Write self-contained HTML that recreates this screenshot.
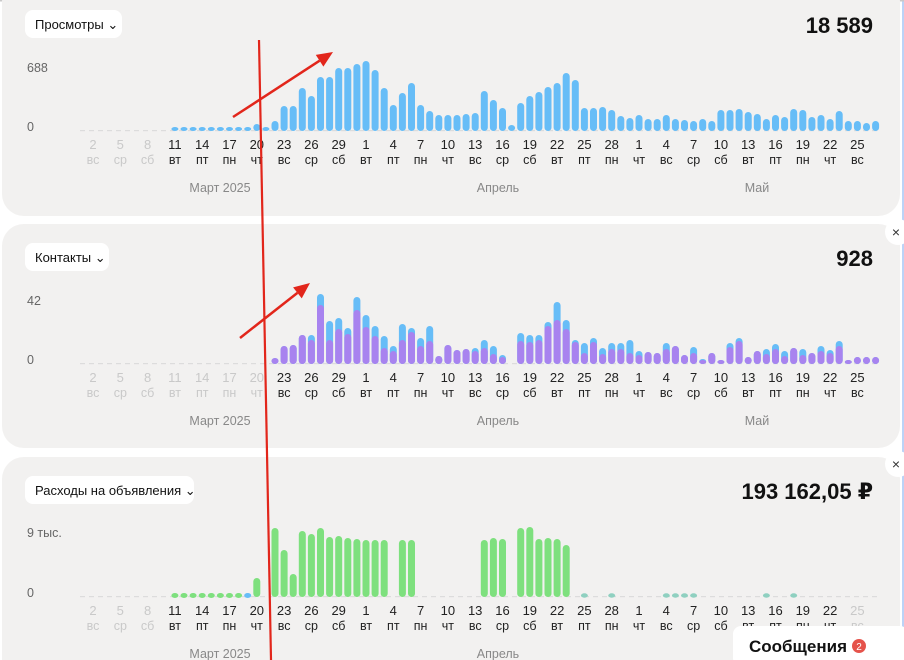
<!DOCTYPE html>
<html><head><meta charset="utf-8">
<style>
html,body{margin:0;padding:0;background:#fff;width:904px;height:660px;overflow:hidden;font-family:"Liberation Sans","DejaVu Sans",sans-serif;}
svg{position:absolute;left:0;top:0;}
</style></head><body>
<svg id="s" width="904" height="660" viewBox="0 0 904 660" xmlns="http://www.w3.org/2000/svg" font-family="Liberation Sans, DejaVu Sans, sans-serif">
<rect x="0" y="0" width="904" height="660" fill="#fff"/>
<rect x="902" y="0" width="2" height="660" fill="#bcd3f7"/>
<rect x="0" y="0" width="904" height="1.5" fill="#c9c9c9"/>
<rect x="2" y="-20" width="898" height="236" rx="22" fill="#f2f1f0"/>
<rect x="2" y="224" width="898" height="224" rx="22" fill="#f2f1f0"/>
<rect x="2" y="457" width="898" height="230" rx="22" fill="#f2f1f0"/>
<g id="g"></g>
</svg>
<script>
var NS="http://www.w3.org/2000/svg",g=document.getElementById('g');
function el(t,a,txt){var e=document.createElementNS(NS,t);for(var k in a)e.setAttribute(k,a[k]);if(txt!=null)e.textContent=txt;g.appendChild(e);return e;}
function X(i){return 93+i*9.1;}
var wd=['вс','пн','вт','ср','чт','пт','сб'];
function dayLabel(i){var d=new Date(2025,2,2+i);return [d.getDate(),wd[d.getDay()]];}
function axis(off,greyFn,month){
  var b=131+off;
  for(var x=80;x<880;x+=9)el('rect',{x:x,y:b-1,width:5,height:1.2,fill:'#dcdcdc'});
  for(var i=0;i<=84;i+=3){var l=dayLabel(i),c=greyFn(i)?'#c9c9c9':'#222';
    el('text',{x:X(i),y:b+18,'font-size':13,'text-anchor':'middle',fill:c},l[0]);
    el('text',{x:X(i),y:b+33,'font-size':12.5,'text-anchor':'middle',fill:c},l[1]);}
  el('text',{x:220,y:b+61,'font-size':12.5,'text-anchor':'middle',fill:'#888'},'Март 2025');
  el('text',{x:498,y:b+61,'font-size':12.5,'text-anchor':'middle',fill:'#888'},'Апрель');
  el('text',{x:757,y:b+61,'font-size':12.5,'text-anchor':'middle',fill:'#888'},'Май');
}
function bar(i,b,h,col){if(h<=0)return;var w=7,hh=Math.max(h,4);el('rect',{x:X(i)-w/2,y:b-hh,width:w,height:hh,rx:3.5,fill:col});}
function header(off,label,bw,total){
  el('rect',{x:25,y:10+off,width:bw,height:28,rx:8,fill:'#fff'});
  el('text',{x:35,y:29+off,'font-size':13,fill:'#111'},label+' \u2304');
  el('text',{x:873,y:33+off,'font-size':22,'font-weight':'bold','text-anchor':'end',fill:'#111'},total);
}
var p1=[3,2,3,1,2,1,1,1,4,7,1,10,25,25,43,35,54,54,63,63,67,70,61,43,26,38,48,26,20,16,16,16,17,18,40,31,23,6,28,35,39,44,48,58,51,23,23,24,21,15,13,16,12,12,16,12,11,10,12,10,21,21,22,19,17,12,16,14,22,21,14,16,12,20,10,10,8,10];
axis(0,function(i){return i<9;});
header(0,'Просмотры',97,'18 589');
el('text',{x:27,y:72,'font-size':12.5,fill:'#666'},'688');
el('text',{x:27,y:131,'font-size':12.5,fill:'#666'},'0');
for(var k=0;k<p1.length;k++)bar(9+k,131,p1[k],'#67bdf7');
var p2=[[6,6],[18,18],[19,19],[29,29],[29,24],[70,59],[43,24],[46,35],[36,30],[67,54],[49,37],[38,28],[28,16],[18,13],[40,24],[36,32],[26,18],[38,23],[8,8],[19,19],[14,14],[15,15],[16,13],[24,16],[18,10],[9,7],[0,0],[31,23],[29,22],[29,24],[42,38],[62,44],[44,35],[24,22],[21,11],[26,22],[16,10],[21,15],[21,15],[24,11],[13,9],[12,12],[11,11],[21,15],[18,18],[9,9],[17,11],[5,3],[11,11],[4,4],[21,17],[26,23],[7,7],[13,13],[15,10],[20,15],[13,8],[16,16],[15,9],[11,11],[18,13],[14,11],[23,18],[3,3],[7,7],[7,7],[7,7]];
axis(233,function(i){return i<21;});
header(233,'Контакты',84,'928');
el('text',{x:27,y:305,'font-size':12.5,fill:'#666'},'42');
el('text',{x:27,y:364,'font-size':12.5,fill:'#666'},'0');
for(var k=0;k<p2.length;k++){bar(20+k,364,p2[k][0],'#67bdf7');bar(20+k,364,p2[k][1],'#a883ef');}
var p3={18:19,20:69,21:47,22:23,23:66,24:63,25:69,26:60,27:61,28:59,29:58,30:57,31:57,32:57,34:57,35:57,43:57,44:59,45:58,47:69,48:70,49:58,50:59,51:58,52:52};
axis(466,function(i){return i<9||i>=84;});
header(466,'Расходы на объявления',169,'193 162,05 ₽');
el('text',{x:27,y:537,'font-size':12.5,fill:'#666'},'9 тыс.');
el('text',{x:27,y:597,'font-size':12.5,fill:'#666'},'0');
for(var i=9;i<=17;i++)el('ellipse',{cx:X(i),cy:595.5,rx:3.5,ry:2.5,fill:i==17?'#67bdf7':'#7ee07e'});
[54,57,63,64,65,66,74,77].forEach(function(i){el('ellipse',{cx:X(i),cy:595.5,rx:3.5,ry:2.2,fill:'#8fd0c0'});});
for(var k in p3)bar(+k,597,p3[k],'#7ee07e');
el('circle',{cx:898,cy:232,r:13,fill:'#fff'});el('text',{x:896,y:237,'font-size':14,'text-anchor':'middle',fill:'#333'},'×');
el('circle',{cx:898,cy:464,r:13,fill:'#fff'});el('text',{x:896,y:469,'font-size':14,'text-anchor':'middle',fill:'#333'},'×');
el('rect',{x:733,y:626,width:175,height:40,rx:8,fill:'#fff'});
el('text',{x:749,y:652,'font-size':17,'font-weight':'bold',fill:'#111'},'Сообщения');
el('circle',{cx:859,cy:646,r:7,fill:'#e5534b'});
el('text',{x:859,y:650,'font-size':10,'text-anchor':'middle',fill:'#fff'},'2');
el('line',{x1:259,y1:40,x2:271,y2:660,stroke:'#e2261b','stroke-width':2.2});
function arrow(x1,y1,x2,y2){var a=Math.atan2(y2-y1,x2-x1),L=16,W=7;
  var bx=x2-L*Math.cos(a),by=y2-L*Math.sin(a);
  el('line',{x1:x1,y1:y1,x2:bx,y2:by,stroke:'#e2261b','stroke-width':2.5});
  el('polygon',{points:x2+','+y2+' '+(bx+W*Math.sin(a))+','+(by-W*Math.cos(a))+' '+(bx-W*Math.sin(a))+','+(by+W*Math.cos(a)),fill:'#e2261b'});}
arrow(233,117,333,52);
arrow(240,338,310,283);
</script>
</body></html>
